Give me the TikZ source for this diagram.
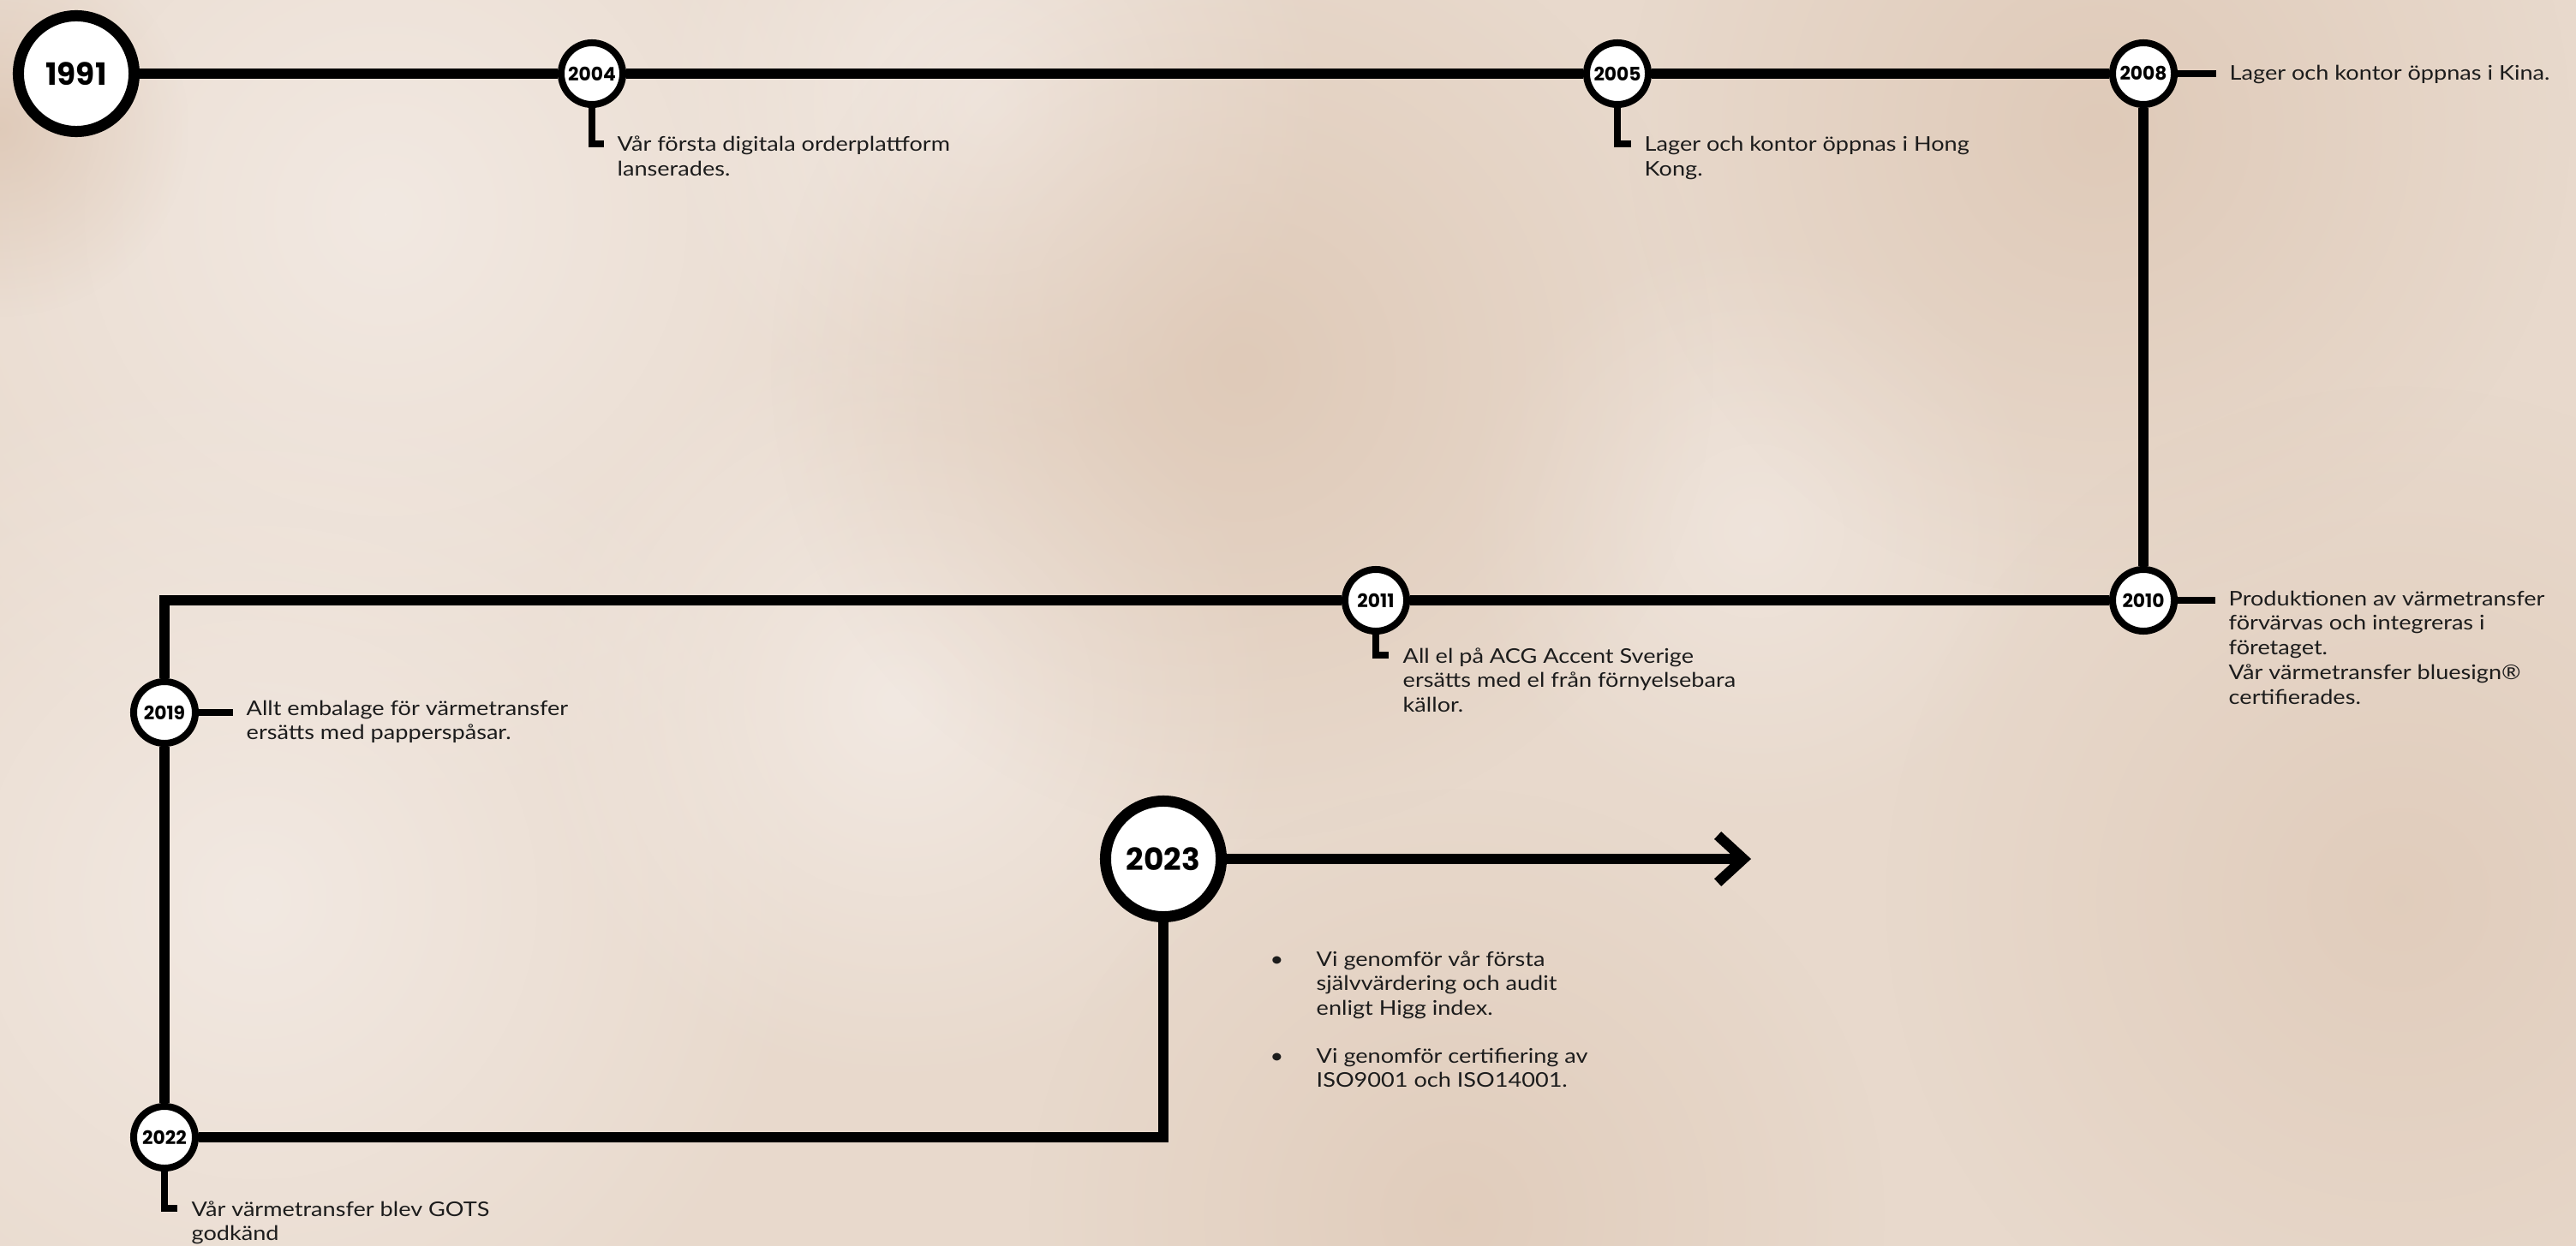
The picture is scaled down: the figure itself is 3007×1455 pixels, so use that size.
\documentclass[tikz,border=0pt]{standalone}
\usepackage{fontspec}
\setmainfont{Lato}[FakeStretch=1.15]
\newfontfamily\yearfont{Poppins}
\usetikzlibrary{arrows.meta,fadings}
\tikzfading[name=blobfade, inner color=transparent!0, outer color=transparent!100]
\definecolor{bgbase}{HTML}{E8D9CC}
\definecolor{bglight}{HTML}{F2E9E2}
\definecolor{bgdark}{HTML}{D8BEA9}
\definecolor{ink}{HTML}{1C1C1C}
\newcommand\ptext[1]{\parbox[t]{10cm}{\raggedright #1}}
\begin{document}
\begin{tikzpicture}[x=0.01cm,y=-0.01cm,
  yr/.style={circle,draw=black,fill=white,inner sep=0pt,text=black},
  smallyr/.style={yr,line width=0.08cm,minimum size=0.72cm,font=\yearfont\bfseries\fontsize{6.2}{7}\selectfont},
  bigyr/.style={yr,line width=0.13cm,minimum size=1.35cm,font=\yearfont\bfseries\fontsize{10.2}{12}\selectfont},
  rail/.style={line width=0.12cm},
  tickline/.style={line width=0.08cm},
  txt/.style={anchor=base west,inner sep=0pt,text=ink,font=\fontsize{6.7}{8.2}\selectfont}
]
\useasboundingbox (0,0) rectangle (3007,1455);
\begin{scope}
\clip (0,0) rectangle (3007,1455);
\fill[bgbase] (0,0) rectangle (3007,1455);
\fill[bglight, path fading=blobfade] (450,250) circle [radius=7cm];
\fill[bglight, path fading=blobfade] (300,1050) circle [radius=6.5cm];
\fill[bglight, path fading=blobfade] (1150,120) circle [radius=4cm];
\fill[bglight, path fading=blobfade] (1050,820) circle [radius=4.5cm];
\fill[bglight, path fading=blobfade, fill opacity=0.7] (2050,620) circle [radius=3.5cm];
\fill[bgdark, path fading=blobfade, fill opacity=0.55] (1450,430) circle [radius=5.5cm];
\fill[bgdark, path fading=blobfade, fill opacity=0.55] (2450,150) circle [radius=5.5cm];
\fill[bgdark, path fading=blobfade, fill opacity=0.45] (1700,1420) circle [radius=5cm];
\fill[bgdark, path fading=blobfade, fill opacity=0.45] (2800,1050) circle [radius=6cm];
\fill[bgdark, path fading=blobfade, fill opacity=0.6] (0,150) circle [radius=2.2cm];
\end{scope}

% year nodes
\node[bigyr] (c1991) at (89,86) {1991};
\node[smallyr] (c2004) at (691,86) {2004};
\node[smallyr] (c2005) at (1888,86) {2005};
\node[smallyr] (c2008) at (2502,86) {2008};
\node[smallyr] (c2010) at (2502,701) {2010};
\node[smallyr] (c2011) at (1606,701) {2011};
\node[smallyr] (c2019) at (192,832) {2019};
\node[smallyr] (c2022) at (192,1328) {2022};
\node[bigyr] (c2023) at (1358,1003) {2023};
\coordinate (e) at (2044,1003);

% main timeline
\draw[rail] (c1991) -- (c2004) -- (c2005) -- (c2008) -- (c2010) -- (c2011) -| (c2019) -- (c2022) -| (c2023);
\draw[rail,-{Straight Barb[length=0.3cm,width=0.55cm]}] (c2023) -- (e);

% label connectors
\coordinate (k2004) at (705,168);
\coordinate (k2005) at (1904,168);
\coordinate (k2011) at (1621,765);
\coordinate (k2022) at (207,1411);
\coordinate (a2008) at (2587,86);
\coordinate (a2010) at (2586,701);
\coordinate (a2019) at (272,832);
\draw[tickline] (c2004) |- (k2004);
\draw[tickline] (c2005) |- (k2005);
\draw[tickline] (c2011) |- (k2011);
\draw[tickline] (c2022) |- (k2022);
\draw[tickline] (c2008) -- (a2008);
\draw[tickline] (c2010) -- (a2010);
\draw[tickline] (c2019) -- (a2019);

% texts
\node[txt] (t2004) at (720,177) {\ptext{Vår första digitala orderplattform\\lanserades.}};
\node[txt] (t2005) at (1919,177) {\ptext{Lager och kontor öppnas i Hong\\Kong.}};
\node[txt] (t2008) at (2602,94) {Lager och kontor öppnas i Kina.};
\node[txt] (t2010) at (2601,707) {\ptext{Produktionen av värmetransfer\\förvärvas och integreras i\\företaget.\\Vår värmetransfer bluesign®\\certifierades.}};
\node[txt] (t2011) at (1637,774) {\ptext{All el på ACG Accent Sverige\\ersätts med el från förnyelsebara\\källor.}};
\node[txt] (t2019) at (287,835) {\ptext{Allt embalage för värmetransfer\\ersätts med papperspåsar.}};
\node[txt] (t2022) at (223,1420) {\ptext{Vår värmetransfer blev GOTS\\godkänd}};
\node[txt] (b1) at (1482,1128) {•};
\node[txt] (i1) at (1536,1128) {\ptext{Vi genomför vår första\\självvärdering och audit\\enligt Higg index.}};
\node[txt] (b2) at (1482,1241) {•};
\node[txt] (i2) at (1536,1241) {\ptext{Vi genomför certifiering av\\ISO9001 och ISO14001.}};
\end{tikzpicture}
\end{document}
